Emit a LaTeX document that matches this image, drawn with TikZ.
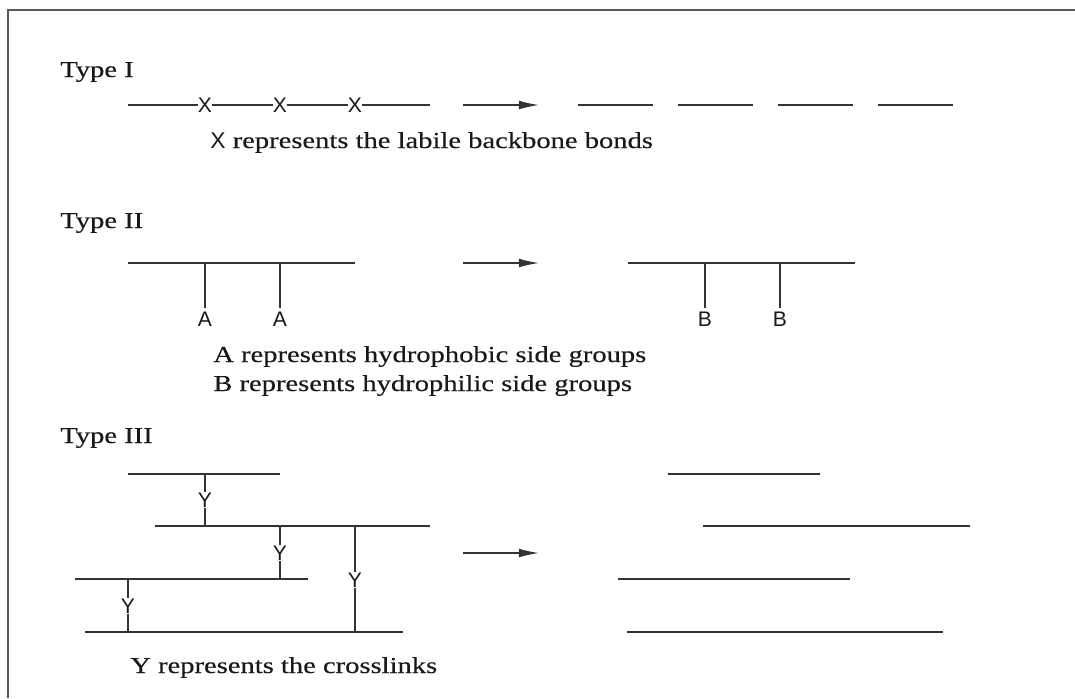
\documentclass[tikz,border=0pt]{standalone}
\usepackage{fontspec}
\setmainfont{Liberation Serif}[FakeStretch=1.25,FakeBold=0.3]
\newfontfamily\grpfont{Liberation Sans}
\usetikzlibrary{arrows.meta}

\tikzset{
  bond/.style={line width=1.25pt, draw=black!80},
  grp/.style={font=\grpfont\fontsize{12}{14}\selectfont, inner sep=0pt, text=black!90},
  txt/.style={anchor=base west, inner sep=0pt, font=\fontsize{13}{15}\selectfont, text=black!90},
  goes/.style={bond, -{Latex[length=12pt,width=5pt]}},
  frame/.style={line width=1.6pt, draw=black!65}
}

\begin{document}
\begin{tikzpicture}[x=0.02cm, y=-0.02cm]
\useasboundingbox (0,0) rectangle (1075,698);
\draw [frame] (8,698) -- (8,10) -- (1075,10);

% Type I
\node [txt] (t1) at (60,77) {Type I};
\coordinate (c1) at (128,105);
\coordinate (c2) at (430,105);
\node [grp] (x1) at (205,105) {X};
\node [grp] (x2) at (280,105) {X};
\node [grp] (x3) at (355,105) {X};
\draw [bond] (c1) -- (x1) -- (x2) -- (x3) -- (c2);
\coordinate (r1a) at (463,105);
\coordinate (r1b) at (540,105);
\draw [goes] (r1a) -- (r1b);
\foreach \x in {578,678,778,878}
  \draw [bond] (\x,105) -- ++(75,0);
\node [txt] (k1) at (210,148) {{\grpfont X} represents the labile backbone bonds};

% Type II
\node [txt] (t2) at (60,228) {Type II};
\draw [bond] (128,263) -- (355,263);
\draw [bond] (628,263) -- (855,263);
\foreach \i/\x in {1/205,2/280} {
  \node [grp, anchor=north, outer sep=2.5pt] (a\i) at (\x,308) {A};
  \draw [bond] (\x,263) -- (a\i);
}
\foreach \i/\x in {1/705,2/780} {
  \node [grp, anchor=north, outer sep=2.5pt] (b\i) at (\x,308) {B};
  \draw [bond] (\x,263) -- (b\i);
}
\coordinate (r2a) at (463,263);
\coordinate (r2b) at (540,263);
\draw [goes] (r2a) -- (r2b);
\node [txt] (k2) at (213,362) {A represents hydrophobic side groups};
\node [txt] (k3) at (213,391) {B represents hydrophilic side groups};

% Type III
\node [txt] (t3) at (60,443) {Type III};
\draw [bond] (128,474) -- (280,474);
\draw [bond] (155,526) -- (430,526);
\draw [bond] (75,579) -- (308,579);
\draw [bond] (85,632) -- (403,632);
% crosslinks
\node [grp] (y1) at (205,500) {Y};
\node [grp] (y2) at (280,553) {Y};
\node [grp] (y3) at (355,580) {Y};
\node [grp] (y4) at (128,606) {Y};
\draw [bond] (205,474) -- (y1) -- (205,526);
\draw [bond] (280,526) -- (y2) -- (280,579);
\draw [bond] (355,526) -- (y3) -- (355,632);
\draw [bond] (128,579) -- (y4) -- (128,632);
\coordinate (r3a) at (463,553);
\coordinate (r3b) at (540,553);
\draw [goes] (r3a) -- (r3b);
\draw [bond] (668,474) -- (820,474);
\draw [bond] (703,526) -- (970,526);
\draw [bond] (618,579) -- (850,579);
\draw [bond] (627,632) -- (943,632);
\node [txt] (k4) at (130,673) {Y represents the crosslinks};
\end{tikzpicture}
\end{document}
